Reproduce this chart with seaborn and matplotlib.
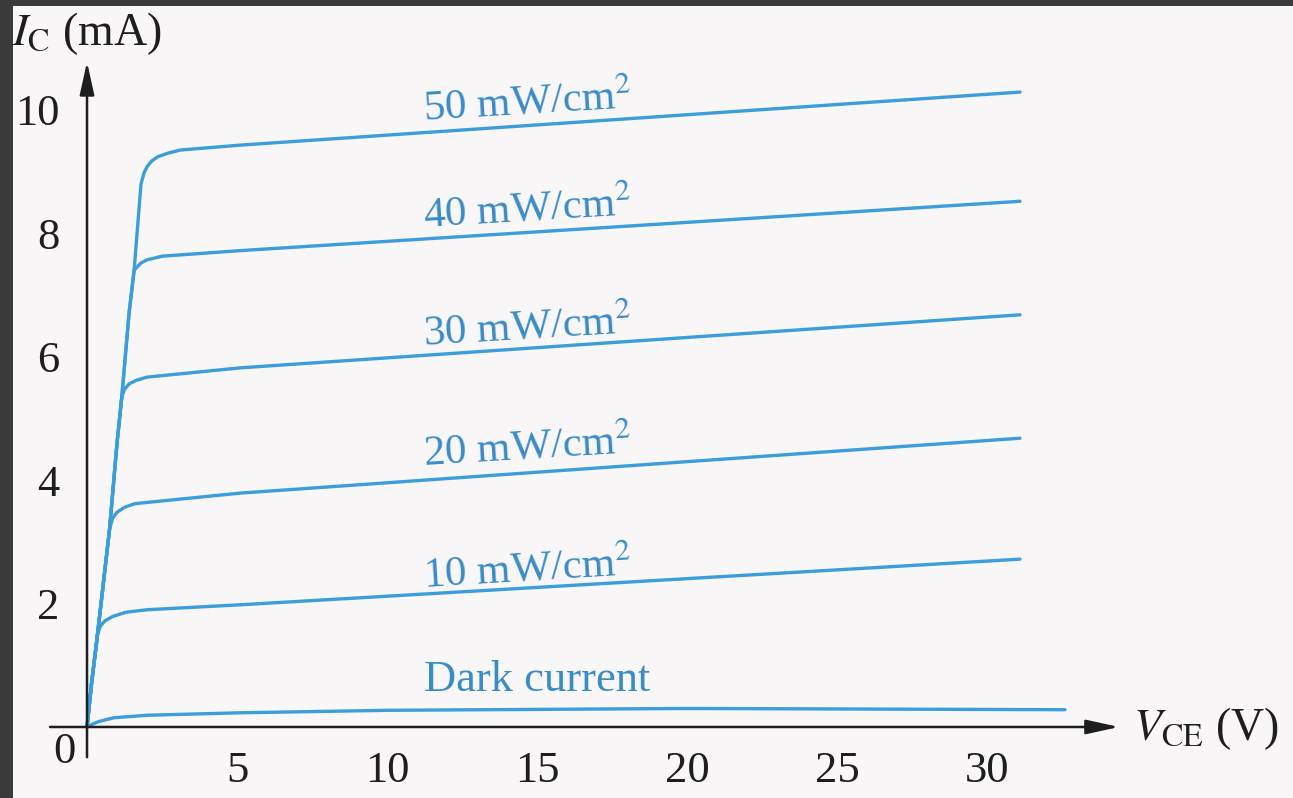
import matplotlib
matplotlib.use("Agg")
import matplotlib.pyplot as plt
import seaborn as sns
import pandas as pd

# shared steep rise from the origin (saturation region)
v_rise = [0, 0.15, 0.35, 0.75, 1.0, 1.16, 1.4, 1.57, 1.8]
i_rise = [0, 0.7, 1.5, 3.2, 4.6, 5.35, 6.7, 7.4, 8.8]

# flat part of each curve, after it leaves the rise
curves = ["50 mW/cm$^2$", "40 mW/cm$^2$", "30 mW/cm$^2$", "20 mW/cm$^2$", "10 mW/cm$^2$"]
rise_points = [9, 8, 6, 4, 3]
v_flat = [
    [1.9, 2.0, 2.15, 2.35, 2.7, 3.1, 5.1, 31.1],
    [1.68, 1.8, 2.0, 2.5, 5.1, 31.1],
    [1.25, 1.4, 1.65, 2.0, 5.1, 31.1],
    [0.85, 1.0, 1.25, 1.6, 5.1, 31.1],
    [0.45, 0.6, 0.85, 1.3, 2.0, 5.1, 31.1],
]
i_flat = [
    [8.98, 9.08, 9.17, 9.24, 9.3, 9.35, 9.43, 10.29],
    [7.46, 7.52, 7.57, 7.63, 7.72, 8.52],
    [5.47, 5.56, 5.62, 5.67, 5.82, 6.68],
    [3.38, 3.48, 3.56, 3.62, 3.79, 4.68],
    [1.64, 1.72, 1.79, 1.86, 1.9, 1.98, 2.72],
]
label_y = [10.11, 8.38, 6.47, 4.52, 2.54]

v_dark = [0, 0.2, 0.4, 0.9, 2.0, 5.1, 10, 20, 32.6]
i_dark = [0, 0.05, 0.09, 0.15, 0.19, 0.23, 0.27, 0.3, 0.28]

x_ticks = [5, 10, 15, 20, 25, 30]
y_ticks = [2, 4, 6, 8, 10]

rows = []
for name, k, vs, cs in zip(curves, rise_points, v_flat, i_flat):
    for v, c in zip(v_rise[:k] + vs, i_rise[:k] + cs):
        rows.append({"curve": name, "V": v, "I": c})
for v, c in zip(v_dark, i_dark):
    rows.append({"curve": "Dark current", "V": v, "I": c})
df = pd.DataFrame(rows)

sns.set_style("white")
plt.rcParams["font.family"] = ["Liberation Serif", "DejaVu Serif"]
plt.rcParams["mathtext.fontset"] = "stix"

blue = "#3b9edb"
ink = "#1e1e1e"

fig = plt.figure(figsize=(12.93, 7.98), dpi=100, facecolor="#3a3a3a")
ax = fig.add_axes([13 / 1293, 0, 1280 / 1293, 792 / 798])
ax.set_facecolor("#f8f6f6")

sns.lineplot(data=df, x="V", y="I", hue="curve", palette=[blue] * 6,
             sort=False, estimator=None, legend=False, lw=2.4, ax=ax)

ax.set_xlim(-2.467, 40.2)
ax.set_ylim(-1.151, 11.685)

for s in ax.spines.values():
    s.set_visible(False)
ax.spines["left"].set_position(("data", 0))
ax.spines["bottom"].set_position(("data", 0))

# axis lines with arrows
arrow = dict(arrowstyle="-|>,head_length=1.0,head_width=0.22", lw=1.8,
             color=ink, shrinkA=0, shrinkB=0, mutation_scale=20)
ax.annotate("", xy=(34.4, 0), xytext=(-1.23, 0), arrowprops=arrow)
ax.annotate("", xy=(0, 10.78), xytext=(0, -0.49), arrowprops=arrow)

ax.set_xticks(x_ticks)
ax.set_yticks(y_ticks)
ax.set_xticklabels([str(t) for t in x_ticks])
ax.set_yticklabels([str(t) for t in y_ticks])
ax.tick_params(axis="x", direction="out", length=11, width=1.5, colors=ink,
               labelsize=32, pad=6)
ax.tick_params(axis="y", direction="out", length=14, width=1.5, colors=ink,
               labelsize=32, pad=6)
ax.set_xlabel("")
ax.set_ylabel("")

ax.text(-0.75, -0.4, "0", fontsize=32, color=ink, ha="center", va="center")
ax.text(-2.5, 11.05, r"$I_\mathrm{C}$ (mA)", fontsize=33, color=ink,
        ha="left", va="baseline")
ax.text(34.87, -0.21, r"$V_\mathrm{CE}$ (V)", fontsize=33, color=ink,
        ha="left", va="baseline")

for name, yy in zip(curves, label_y):
    ax.text(14.7, yy, name, fontsize=31, color="#3a8cc6", ha="center",
            va="center", rotation=3.5, rotation_mode="anchor")
ax.text(15.0, 0.76, "Dark current", fontsize=32, color="#3a8cc6",
        ha="center", va="center")

fig.savefig("out.png", dpi=100, facecolor=fig.get_facecolor())
